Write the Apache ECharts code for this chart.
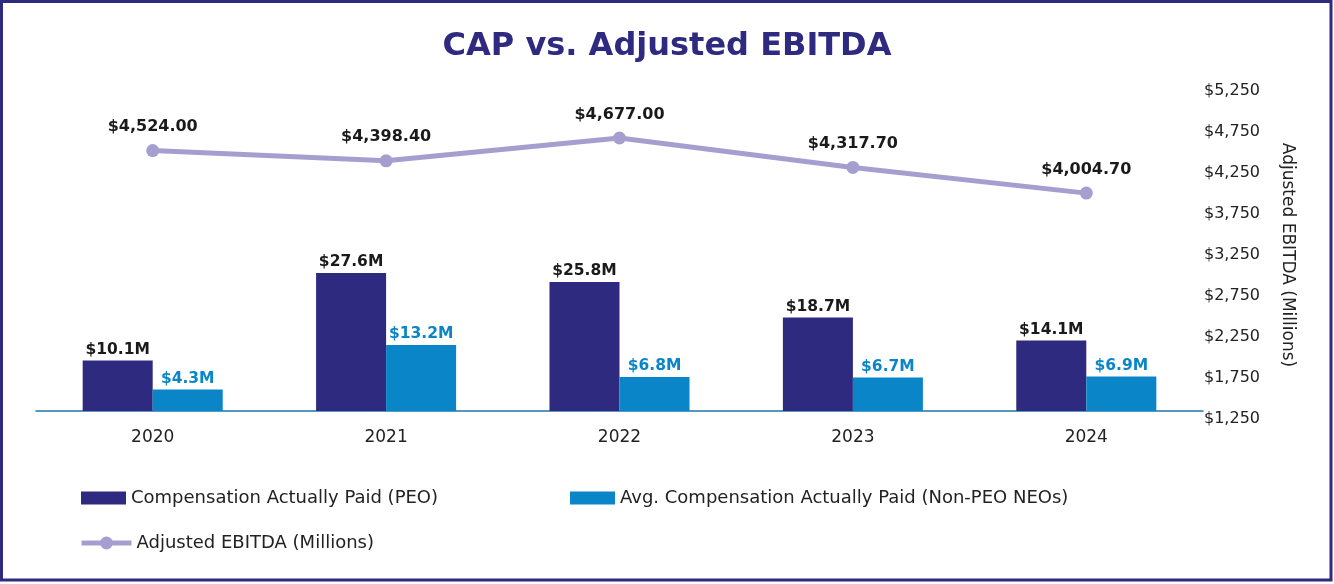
<!DOCTYPE html>
<html>
<head>
<meta charset="utf-8">
<script src="https://cdn.jsdelivr.net/npm/echarts@6/dist/echarts.min.js"></script>
<style>
html,body{margin:0;padding:0;background:#fff;}
#chart{width:1334px;height:584px;}
</style>
</head>
<body>
<div id="chart"></div>
<script>
const categories = ['2020', '2021', '2022', '2023', '2024'];
const peoCap = [10.1, 27.6, 25.8, 18.7, 14.1];
const neoCap = [4.3, 13.2, 6.8, 6.7, 6.9];
const ebitda = [4524.00, 4398.40, 4677.00, 4317.70, 4004.70];
const rightTicks = { min: 1250, max: 5250, interval: 500 };

const FONT = '"DejaVu Sans", "Noto Sans", sans-serif';
const NAVY = '#2e2a80';
const BLUE = '#0a86c8';
const LAV = '#a59fd0';

function money(v, d) {
  return '$' + v.toLocaleString('en-US', { minimumFractionDigits: d, maximumFractionDigits: d });
}

const chart = echarts.init(document.getElementById('chart'));
chart.setOption({
  backgroundColor: '#fff',
  animation: false,
  textStyle: { fontFamily: FONT },
  title: {
    text: 'CAP vs. Adjusted EBITDA',
    left: 'center',
    top: 26,
    textStyle: { fontFamily: FONT, fontSize: 32, fontWeight: 'bold', color: NAVY }
  },
  graphic: [{
    type: 'rect',
    shape: { x: 1.5, y: 1.5, width: 1329.5, height: 578.5 },
    style: { fill: 'none', stroke: NAVY, lineWidth: 3 },
    silent: true
  }],
  legend: [
    {
      data: [{ name: 'Compensation Actually Paid (PEO)', icon: 'rect' }],
      left: 81, top: 489, padding: 0, itemWidth: 45, itemHeight: 13, itemGap: 4,
      textStyle: { fontFamily: FONT, fontSize: 18, color: '#222' }
    },
    {
      data: [{ name: 'Avg. Compensation Actually Paid (Non-PEO NEOs)', icon: 'rect' }],
      left: 570, top: 489, padding: 0, itemWidth: 45, itemHeight: 13, itemGap: 4,
      textStyle: { fontFamily: FONT, fontSize: 18, color: '#222' }
    },
    {
      data: ['Adjusted EBITDA (Millions)'],
      left: 79, top: 534, padding: 0, itemWidth: 50, itemHeight: 16, itemGap: 4,
      lineStyle: { width: 5, color: LAV },
      textStyle: { fontFamily: FONT, fontSize: 18, color: '#222' }
    }
  ],
  grid: { left: 36, right: 131, top: 91, bottom: 165 },
  xAxis: {
    type: 'category',
    data: categories,
    axisLine: { show: true, onZero: true, onZeroAxisIndex: 0, lineStyle: { color: '#1f77a8', width: 1.5 } },
    axisTick: { show: false },
    axisLabel: { fontFamily: FONT, fontSize: 17, color: '#222', margin: 10 }
  },
  yAxis: [
    {
      type: 'value', min: -1.6, max: 64, show: false,
      splitLine: { show: false }
    },
    {
      type: 'value', position: 'right',
      min: rightTicks.min, max: rightTicks.max, interval: rightTicks.interval,
      name: 'Adjusted EBITDA (Millions)',
      nameLocation: 'middle',
      nameRotate: -90,
      nameGap: 76,
      nameTextStyle: { fontFamily: FONT, fontSize: 17, color: '#222' },
      axisLine: { show: false },
      axisTick: { show: false },
      splitLine: { show: false },
      axisLabel: {
        fontFamily: FONT, fontSize: 16, color: '#222', margin: 1,
        formatter: v => money(v, 0)
      }
    }
  ],
  series: [
    {
      name: 'Compensation Actually Paid (PEO)',
      type: 'bar',
      yAxisIndex: 0,
      data: peoCap,
      barWidth: '30%',
      barGap: '0%',
      itemStyle: { color: NAVY },
      label: {
        show: true, position: 'top', distance: 3,
        fontFamily: FONT, fontSize: 15.5, fontWeight: 'bold', color: '#1a1a1a',
        formatter: p => '$' + p.value.toFixed(1) + 'M'
      }
    },
    {
      name: 'Avg. Compensation Actually Paid (Non-PEO NEOs)',
      type: 'bar',
      yAxisIndex: 0,
      data: neoCap,
      barWidth: '30%',
      barGap: '0%',
      itemStyle: { color: BLUE },
      label: {
        show: true, position: 'top', distance: 3,
        fontFamily: FONT, fontSize: 15.5, fontWeight: 'bold', color: BLUE,
        formatter: p => '$' + p.value.toFixed(1) + 'M'
      }
    },
    {
      name: 'Adjusted EBITDA (Millions)',
      type: 'line',
      yAxisIndex: 1,
      data: ebitda,
      symbol: 'circle',
      symbolSize: 13,
      lineStyle: { color: LAV, width: 5 },
      itemStyle: { color: LAV },
      label: {
        show: true, position: 'top', distance: 9,
        fontFamily: FONT, fontSize: 16, fontWeight: 'bold', color: '#1a1a1a',
        formatter: p => money(p.value, 2)
      }
    }
  ]
});
</script>
</body>
</html>
